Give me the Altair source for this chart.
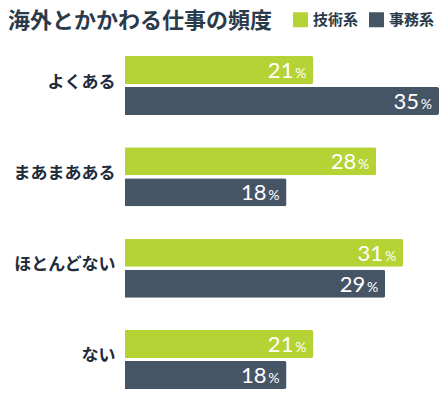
import altair as alt
import pandas as pd

title_text = ["海外とかかわる仕事の頻度"]
categories = ["よくある", "まあまあある", "ほとんどない", "ない"]
series = ["技術系", "事務系"]
tech_values = [21, 28, 31, 21]
office_values = [35, 18, 29, 18]
colors = ["#B5D334", "#465565"]

rows = []
for c, t, o in zip(categories, tech_values, office_values):
    rows.append({"category": c, "series": series[0], "value": t})
    rows.append({"category": c, "series": series[1], "value": o})
df = pd.DataFrame(rows)

JP = "Noto Sans CJK JP"

y_enc = alt.Y(
    "category:N",
    sort=categories,
    scale=alt.Scale(paddingInner=0.354, paddingOuter=0),
    axis=alt.Axis(
        title=None, domain=False, ticks=False, labelPadding=10,
        labelFont=JP, labelFontSize=17, labelFontWeight="bold",
        labelColor="#1E2C3C", labelOffset=-3,
    ),
)
yoff = alt.YOffset(
    "series:N", sort=series,
    scale=alt.Scale(paddingInner=0.0968, paddingOuter=0),
)
x_enc = alt.X(
    "value:Q",
    scale=alt.Scale(domain=[0, 35], nice=False, zero=True),
    axis=None,
)

base = alt.Chart(df).encode(y=y_enc, yOffset=yoff, x=x_enc)

bars = base.mark_bar(cornerRadiusEnd=2).encode(
    color=alt.Color(
        "series:N",
        sort=series,
        scale=alt.Scale(domain=series, range=colors),
        legend=alt.Legend(
            title=None, orient="none", direction="horizontal",
            legendX=168, legendY=-44, padding=0,
            symbolType="square", symbolSize=225, symbolStrokeWidth=0,
            symbolOpacity=1,
            labelFont=JP, labelFontSize=15, labelFontWeight="bold",
            labelColor="#2B3A4A", labelOffset=5, columnPadding=10,
            labelLimit=200,
        ),
    )
)

nums = base.mark_text(
    align="right", baseline="alphabetic", dx=-20, dy=8,
    font="Lato", fontSize=22, color="white",
).encode(text=alt.Text("value:Q"))

pct = base.mark_text(
    align="right", baseline="alphabetic", dx=-7, dy=8,
    font="Lato", fontSize=14, color="white",
).encode(text=alt.value("%"))

title = alt.Chart(pd.DataFrame({"t": title_text})).mark_text(
    align="left", baseline="top",
    font=JP, fontSize=22, fontWeight="bold", color="#2B3A4A",
).encode(x=alt.value(-117), y=alt.value(-45), text="t:N")

chart = (
    alt.layer(bars, nums, pct, title)
    .properties(
        width=314,
        height=333,
        autosize=alt.AutoSizeParams(type="none"),
        padding={"left": 117, "top": 48, "right": 0, "bottom": 0},
    )
    .configure_view(stroke=None)
)

chart.save("out.html", embed_options={"renderer": "svg", "actions": False})
